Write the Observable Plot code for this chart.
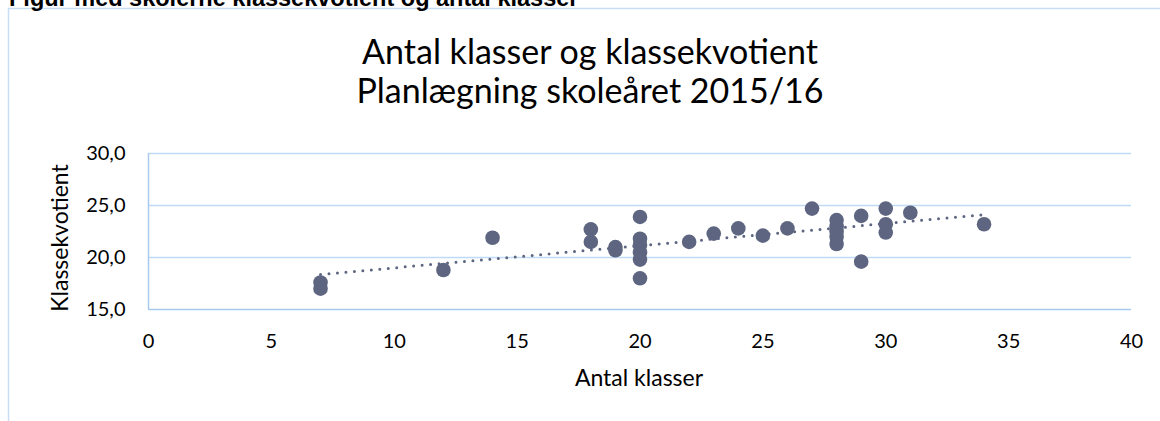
<!DOCTYPE html>
<html><head><meta charset="utf-8">
<script src="https://cdn.jsdelivr.net/npm/d3@7"></script>
<script src="https://cdn.jsdelivr.net/npm/@observablehq/plot@0.6"></script>
<style>
body{margin:0;background:#fff;}
#chart{position:relative;width:1160px;height:421px;overflow:hidden;}
</style>
</head><body><div id="chart"></div>
<script>
// Data
const antalKlasser   = [7, 7, 12, 14, 18, 18, 19, 19, 20, 20, 20, 20, 20, 20, 22, 23, 24, 25, 26, 27, 28, 28, 28, 28, 28, 29, 29, 30, 30, 30, 31, 34];
const klassekvotient = [17.6, 17.0, 18.8, 21.9, 22.7, 21.5, 21.0, 20.7, 23.9, 21.8, 21.2, 20.5, 19.8, 18.0, 21.5, 22.3, 22.8, 22.1, 22.8, 24.7, 23.6, 23.0, 22.5, 22.0, 21.3, 24.0, 19.6, 24.7, 23.2, 22.4, 24.3, 23.2];
const xTicks = [0, 5, 10, 15, 20, 25, 30, 35, 40];
const yTicks = [15, 20, 25, 30];
const heading = "Figur med skolerne klassekvotient og antal klasser";
const titleLines = ["Antal klasser og klassekvotient", "Planlægning skoleåret 2015/16"];
const xLabel = "Antal klasser";
const yLabel = "Klassekvotient";

const data = antalKlasser.map((x, i) => ({x, y: klassekvotient[i]}));
const fmt = d => d.toFixed(1).replace(".", ",");
const dotColor = "#5d6580";

const plot = Plot.plot({
  width: 1160, height: 421,
  marginLeft: 148, marginRight: 29, marginTop: 153, marginBottom: 112,
  style: {fontFamily: "Lato, sans-serif", background: "transparent", overflow: "visible"},
  x: {domain: [0, 40], ticks: xTicks},
  y: {domain: [15, 30], ticks: yTicks, tickFormat: fmt},
  marks: [
    Plot.gridY(yTicks.slice(1), {stroke: "#bfdaf6", strokeOpacity: 1, strokeWidth: 1.5}),
    Plot.ruleY([15], {stroke: "#a8caee", strokeWidth: 1.5}),
    Plot.ruleX([0], {stroke: "#a8caee", strokeWidth: 1.5}),
    Plot.axisX(xTicks, {tickSize: 0, tickPadding: 24, fontSize: 20, fill: "#000", label: null}),
    Plot.axisY(yTicks, {tickSize: 0, tickPadding: 23, fontSize: 20, fill: "#000", tickFormat: fmt, label: null}),
    Plot.dot(data, {x: "x", y: "y", r: 7.3, fill: dotColor, stroke: "none"}),
    Plot.linearRegressionY(data, {x: "x", y: "y", ci: 0, stroke: dotColor, strokeWidth: 3,
      strokeDasharray: "0 8.5", strokeLinecap: "round"})
  ]
});

const svg = d3.select(plot);
// outer chart frame
svg.insert("rect", ":first-child")
  .attr("x", 8.5).attr("y", 8.5).attr("width", 1300).attr("height", 600)
  .attr("fill", "none").attr("stroke", "#c6ddf4").attr("stroke-width", 1.5);

svg.append("text").text(heading)
  .attr("x", 9).attr("y", 5.5)
  .attr("text-anchor", "start")
  .attr("font-family", "Liberation Sans, Arial, sans-serif")
  .attr("font-weight", "bold").attr("font-size", 23.5).attr("fill", "#000");

titleLines.forEach((t, i) => {
  svg.append("text").text(t)
    .attr("x", 590).attr("y", 64 + i * 39)
    .attr("text-anchor", "middle")
    .attr("font-family", "Lato, sans-serif").attr("font-size", 34).attr("fill", "#000");
});

svg.append("text").text(xLabel)
  .attr("x", 639).attr("y", 386)
  .attr("text-anchor", "middle")
  .attr("font-family", "Lato, sans-serif").attr("font-size", 23).attr("fill", "#000");

svg.append("text").text(yLabel)
  .attr("transform", "translate(68,238) rotate(-90)")
  .attr("text-anchor", "middle")
  .attr("font-family", "Lato, sans-serif").attr("font-size", 23).attr("fill", "#000");

document.getElementById("chart").append(plot);
</script>
</body></html>
